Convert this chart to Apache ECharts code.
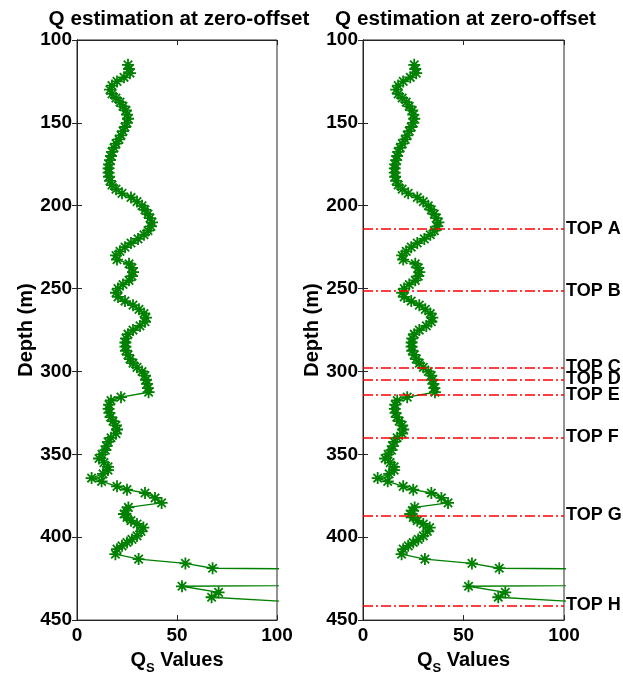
<!DOCTYPE html>
<html>
<head>
<meta charset="utf-8">
<script src="https://cdn.jsdelivr.net/npm/echarts@6/dist/echarts.min.js"></script>
<style>
  html, body { margin: 0; padding: 0; background: #fff; }
  #chart { width: 623px; height: 680px; }
</style>
</head>
<body>
<div id="chart"></div>
<script>
// Depth samples (m) and estimated Q_S at zero offset
const depths = [
  115, 117.5, 120, 122.5, 125, 127.5, 130, 132.5, 135, 137.5,
  140, 142.5, 145, 147.5, 150, 152.5, 155, 157.5, 160, 162.5,
  165, 167.5, 170, 172.5, 175, 177.5, 180, 182.5, 185, 187.5,
  190, 192.5, 195, 197.5, 200, 202.5, 205, 207.5, 210, 212.5,
  215, 217.5, 220, 222.5, 225, 227.5, 230, 232.5, 235, 237.5,
  240, 242.5, 245, 247.5, 250, 252.5, 255, 257.5, 260, 262.5,
  265, 267.5, 270, 272.5, 275, 277.5, 280, 282.5, 285, 287.5,
  290, 292.5, 295, 297.5, 300, 302.5, 305, 307.5, 310, 312.5,
  315.5, 317.5, 320, 322.5, 325, 327.5, 330, 332.5, 335, 337.5,
  340, 342.5, 345, 347.5, 350, 352.5, 355, 357.5, 359.5, 361.8,
  364.3, 366.3, 369.3, 371.3, 373.3, 376.3, 379.3, 382.0, 384.0, 386.0,
  388.0, 390.0, 392.0, 394.2, 396.5, 399.2, 401.3, 403.2, 405.2, 407.2,
  410.2, 413.2, 415.8, 418.7, 421.5, 424.5, 427.0, 429.6, 433.3, 436.2,
  439.5
];
const qsValues = [
  25.5, 26, 26.5, 23.5, 20, 17.5, 16.5, 17.5, 19.5, 21.5,
  23, 24.5, 25, 25.5, 25, 24, 23, 22, 21, 19.5,
  18.5, 17.5, 17, 16.5, 16, 15.8, 15.8, 16, 16.5, 17.5,
  19.5, 22.5, 27, 30, 32.5, 34, 35.5, 36.5, 37.5, 37,
  35.5, 33.5, 30.5, 27, 24, 21.5, 19.5, 20, 26, 27.5,
  28, 27.5, 26, 23, 20.5, 19.5, 20.5, 24, 28, 31,
  33.5, 34.5, 34, 31.5, 28, 25.5, 24.5, 24.2, 24.2, 24.5,
  25.5, 26.5, 28, 30, 32.5, 34, 34.5, 35, 35.5, 35.8,
  22, 17, 16, 15.8, 16.2, 16.8, 18, 19.5, 20, 19.5,
  17, 15.5, 14.8, 14.2, 12.5, 11, 13.5, 15.5, 15.5, 13,
  7.3, 12.3, 20, 25, 34, 39, 42.3, 25.7, 24.5, 23.5,
  25, 27, 30, 33.2, 32, 30, 27.5, 25, 22.5, 20,
  19.2, 30.8, 54.2, 67.8, 400, 500, 350, 52.5, 70.8, 67.3,
  115
];

// Formation tops (m)
const topNames = ['TOP A', 'TOP B', 'TOP C', 'TOP D', 'TOP E', 'TOP F', 'TOP G', 'TOP H'];
const topDepths = [213.9, 251.4, 297.5, 304.7, 314.0, 339.8, 386.8, 441.1];

const yTicks = [100, 150, 200, 250, 300, 350, 400, 450];
const xTicks = [0, 50, 100];

const FONT = 'Liberation Sans, Arial, Helvetica, sans-serif';
const titleText = 'Q estimation at zero-offset';

const points = depths.map((d, i) => [qsValues[i], d]);

// eight-armed asterisk marker
const asterisk = 'path://M5,0L5,10M0,5L10,5M1.5,1.5L8.5,8.5M1.5,8.5L8.5,1.5';

const panels = [
  { left: 77, width: 200 },
  { left: 363, width: 201 }
];

const grids = [], xAxes = [], yAxes = [], series = [], titles = [];

panels.forEach((p, gi) => {
  grids.push({
    left: p.left, top: 40, width: p.width, height: 585,
    show: true, borderColor: '#262626', borderWidth: 1, backgroundColor: '#fff'
  });
  titles.push({
    text: titleText,
    left: p.left + p.width / 2 - 3,
    top: 4,
    textAlign: 'center',
    textStyle: { fontFamily: FONT, fontWeight: 'bold', fontSize: 20.7, color: '#000' }
  });
  const common = {
    gridIndex: gi, type: 'value',
    axisTick: { inside: true, length: 5, lineStyle: { color: '#262626', width: 1 } },
    axisLine: { show: true, lineStyle: { color: '#262626', width: 1 } },
    splitLine: { show: false }
  };
  xAxes.push(Object.assign({}, common, {
    position: 'bottom', min: xTicks[0], max: xTicks[xTicks.length - 1], interval: 50,
    axisLabel: { margin: 6, fontFamily: FONT, fontWeight: 'bold', fontSize: 19, color: '#000' },
    name: '{q|Q}{s|S}{v| Values}',
    nameLocation: 'middle', nameGap: 24,
    nameTextStyle: {
      rich: {
        q: { fontFamily: FONT, fontWeight: 'bold', fontSize: 20, color: '#000', verticalAlign: 'bottom' },
        s: { fontFamily: FONT, fontWeight: 'bold', fontSize: 13, color: '#000', verticalAlign: 'bottom', padding: [0, 0, -5, 0] },
        v: { fontFamily: FONT, fontWeight: 'bold', fontSize: 20, color: '#000', verticalAlign: 'bottom' }
      }
    }
  }));
  xAxes.push(Object.assign({}, common, {
    position: 'top', min: 0, max: 100, interval: 50, axisLabel: { show: false }
  }));
  yAxes.push(Object.assign({}, common, {
    position: 'left', inverse: true,
    min: yTicks[0], max: yTicks[yTicks.length - 1], interval: 50,
    axisLabel: { margin: 5, fontFamily: FONT, fontWeight: 'bold', fontSize: 19, color: '#000' },
    name: 'Depth (m)', nameLocation: 'middle', nameGap: 40, nameRotate: 90,
    nameTextStyle: { fontFamily: FONT, fontWeight: 'bold', fontSize: 20, color: '#000' }
  }));
  yAxes.push(Object.assign({}, common, {
    position: 'right', inverse: true, min: 100, max: 450, interval: 50, axisLabel: { show: false }
  }));

  const s = {
    type: 'line',
    xAxisIndex: gi * 2, yAxisIndex: gi * 2,
    data: points,
    clip: true,
    symbol: asterisk, symbolSize: 12,
    lineStyle: { color: '#008000', width: 1.4 },
    itemStyle: { color: 'none', borderColor: '#008000', borderWidth: 1.8 },
    z: 3
  };
  if (gi === 1) {
    s.markLine = {
      silent: true, symbol: 'none', animation: false,
      lineStyle: { color: '#ff0000', width: 1.5, type: [10, 3, 2, 3] },
      label: {
        show: true, position: 'end', distance: 2,
        formatter: '{b}',
        fontFamily: FONT, fontWeight: 'bold', fontSize: 18, color: '#000',
        padding: [0, 0, 14, 0]
      },
      data: topDepths.map((d, i) => ({ name: topNames[i], yAxis: d }))
    };
  }
  series.push(s);
});

const chart = echarts.init(document.getElementById('chart'), null, { renderer: 'canvas' });
chart.setOption({
  animation: false,
  backgroundColor: '#fff',
  title: titles,
  grid: grids,
  xAxis: xAxes,
  yAxis: yAxes,
  series: series
});
</script>
</body>
</html>
